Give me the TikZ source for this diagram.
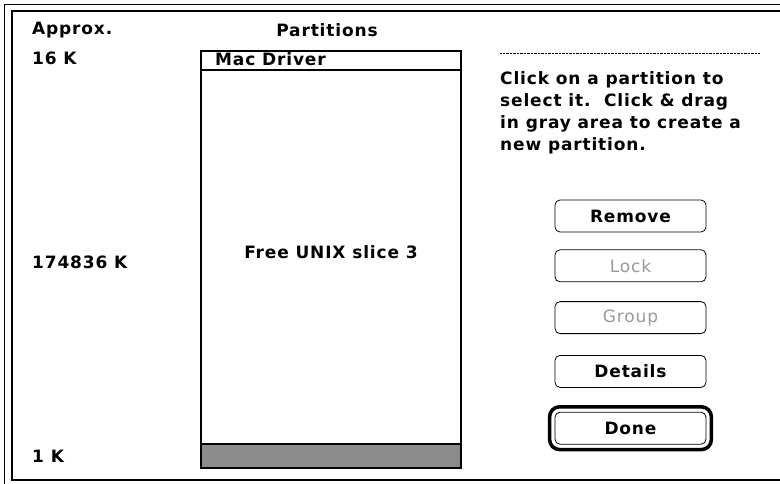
\documentclass[tikz,border=0pt]{standalone}
\usepackage{fontspec}
\setmainfont{DejaVu Sans}[LetterSpace=5]
\usetikzlibrary{positioning, fit}

\begin{document}
\begin{tikzpicture}[x=1pt, y=-1pt,
        lbl/.style = {anchor=west, inner sep=0pt, font=\bfseries\fontsize{17}{17}\selectfont},
        btn/.style = {draw, black, thick, rounded corners=5pt, minimum width=151pt, minimum height=32pt, inner sep=0pt, font=\bfseries\fontsize{17}{17}\selectfont},
        off/.style = {btn, text=black!40, font=\fontsize{17}{17}\selectfont},
        frame/.style = {line width=2.6pt}
    ]
        \useasboundingbox (0,0) rectangle (780,484);

        % window border
        \draw[thin] (4,484) -- (4,4) -- (780,4);
        \draw[frame] (780,11) -- (12,11) -- (12,480) -- (780,480);

        % column heads and sizes
        \node[lbl] (approx) at (32,30) {Approx.};
        \node[lbl, anchor=center] (parts) at (327,30) {Partitions};
        \node[lbl] (top) at (32,58) {16 K};
        \node[lbl] (mid) at (32,262) {174836 K};
        \node[lbl] (bot) at (32,456) {1 K};

        % partition map
        \fill[black!45] (200,444) rectangle (460,467);
        \node[draw, line width=2pt, minimum width=260pt, minimum height=417pt, anchor=north west, inner sep=0pt] (disk) at (200,50) {};
        \draw[line width=1.6pt] (200,70) -- (460,70);
        \draw[line width=1.6pt] (200,444) -- (460,444);
        \node[lbl] (mac) at (215,59) {Mac Driver};
        \node[lbl, anchor=center] (free) at (331,252) {Free UNIX slice 3};

        % help text
        \draw[densely dotted, thin] (500,53) -- (760,53);
        \node[lbl, anchor=north west, align=left, font=\bfseries\fontsize{17}{22}\selectfont] (help) at (500,71)
            {Click on a partition to\\select it.\ \ Click \& drag\\in gray area to create a\\new partition.};

        % buttons
        \node[btn] (remove) at (630.5,216) {Remove};
        \node[off, below=17pt of remove] (lock) {Lock};
        \node[off, below=19pt of lock] (group) {Group};
        \node[btn, below=21pt of group] (details) {Details};
        \node[btn, below=24pt of details] (done) {Done};
        \node[draw, line width=3.5pt, rounded corners=10pt, fit=(done), inner sep=5pt] (ring) {};

    \end{tikzpicture}
\end{document}
